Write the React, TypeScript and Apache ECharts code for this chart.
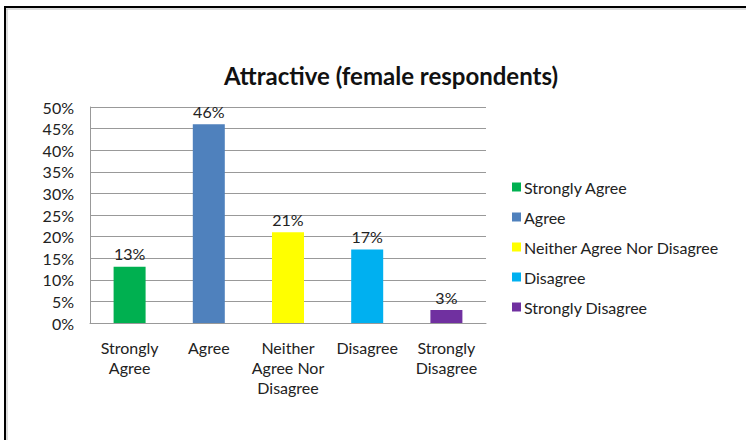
import React, { useEffect, useRef } from "react";
import * as echarts from "echarts";

const categories = ["Strongly\nAgree", "Agree", "Neither\nAgree Nor\nDisagree", "Disagree", "Strongly\nDisagree"];
const seriesNames = ["Strongly Agree", "Agree", "Neither Agree Nor Disagree", "Disagree", "Strongly Disagree"];
const values = [13, 46, 21, 17, 3];
const colors = ["#00B050", "#4F81BD", "#FFFF00", "#00B0F0", "#7030A0"];
const yTicks = [0, 5, 10, 15, 20, 25, 30, 35, 40, 45, 50];

const FONT = "Lato, 'Open Sans', sans-serif";

export default function App() {
  const ref = useRef<HTMLDivElement>(null);
  useEffect(() => {
    const chart = echarts.init(ref.current!, null, { renderer: "svg" });
    const series = seriesNames.map((name, i) => ({
      name,
      type: "bar",
      stack: "all",
      barWidth: 32,
      itemStyle: { color: colors[i] },
      label: {
        show: true,
        position: "top",
        formatter: "{c}%",
        color: "#222",
        fontFamily: FONT,
        fontSize: 16,
        distance: 5,
      },
      data: values.map((v, j) => (j === i ? v : "-")),
    }));
    chart.setOption({
      animation: false,
      backgroundColor: "#fff",
      title: {
        text: "Attractive (female respondents)",
        left: 386,
        textAlign: "center",
        top: 58,
        textStyle: { fontFamily: FONT, fontSize: 24, fontWeight: "bold", color: "#111" },
      },
      graphic: [
        { type: "line", shape: { x1: 4, y1: 7, x2: 746, y2: 7 }, style: { stroke: "#000", lineWidth: 2 } },
        { type: "line", shape: { x1: 5, y1: 7, x2: 5, y2: 440 }, style: { stroke: "#000", lineWidth: 2 } },
        { type: "line", shape: { x1: 6, y1: 9, x2: 746, y2: 9 }, style: { stroke: "#bbb", lineWidth: 1 } },
        { type: "line", shape: { x1: 7, y1: 9, x2: 7, y2: 440 }, style: { stroke: "#bbb", lineWidth: 1 } },
      ],
      legend: {
        orient: "vertical",
        left: 507,
        top: 174,
        itemWidth: 9,
        itemHeight: 9,
        itemGap: 14,
        icon: "rect",
        data: seriesNames,
        textStyle: { fontFamily: FONT, fontSize: 16, color: "#222", padding: [0, 0, 0, -2] },
      },
      grid: { left: 90, top: 107, width: 396, height: 216 },
      xAxis: {
        type: "category",
        data: categories,
        axisLine: { show: true, lineStyle: { color: "#999" } },
        axisTick: { show: false },
        axisLabel: {
          interval: 0,
          margin: 14,
          lineHeight: 20,
          fontFamily: FONT,
          fontSize: 16,
          color: "#222",
        },
      },
      yAxis: {
        type: "value",
        min: 0,
        max: 50,
        interval: 5,
        axisLine: { show: true, lineStyle: { color: "#999" } },
        axisTick: { show: false },
        splitLine: { show: true, lineStyle: { color: "#999" } },
        axisLabel: {
          margin: 16,
          fontFamily: FONT,
          fontSize: 16,
          color: "#222",
          formatter: (v: number) => (yTicks.includes(v) ? v + "%" : ""),
        },
      },
      series,
    });
    return () => chart.dispose();
  }, []);
  return (
    <div
      ref={ref}
      style={{ position: "fixed", left: 0, top: 0, width: 746, height: 440 }}
    />
  );
}
